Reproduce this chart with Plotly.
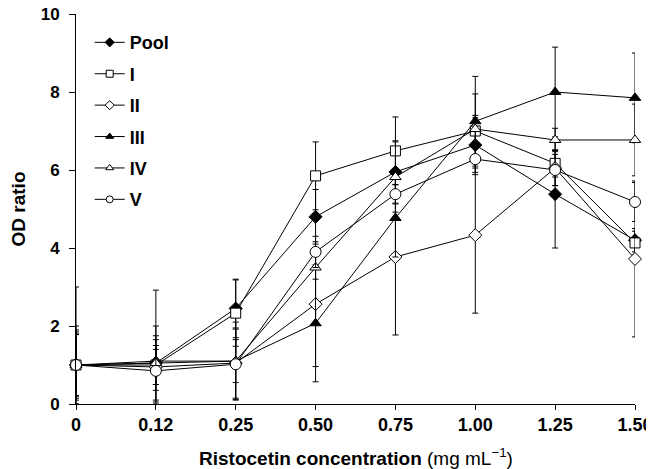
import plotly.graph_objects as go

categories = ["0", "0.12", "0.25", "0.50", "0.75", "1.00", "1.25", "1.50"]

pool = [1.0, 1.05, 2.45, 4.80, 5.95, 6.64, 5.38, 4.20]
pool_err = [0.80, 0.70, 0.75, 0.70, 0.80, 0.70, 1.38, 0.30]

s1 = [1.0, 1.00, 2.33, 5.85, 6.49, 7.00, 6.17, 4.13]
s1_err = [0.85, 0.50, 0.85, 0.87, 0.87, 0.95, 0.35, 0.30]

s2 = [1.0, 0.95, 1.05, 2.56, 3.77, 4.33, 6.05, 3.72]
s2_err = [0.78, 0.45, 0.90, 1.60, 2.00, 2.00, 0.45, 2.00]

s3 = [1.0, 1.10, 1.10, 2.07, 4.77, 7.25, 8.00, 7.85]
s3_err = [2.00, 1.82, 1.00, 1.50, 1.00, 1.15, 1.15, 1.15]

s4 = [1.0, 1.05, 1.10, 3.50, 5.82, 7.05, 6.77, 6.77]
s4_err = [0.90, 0.95, 0.55, 0.30, 0.90, 0.35, 0.30, 0.92]

s5 = [1.0, 0.85, 1.02, 3.90, 5.38, 6.28, 6.00, 5.18]
s5_err = [1.00, 0.80, 0.90, 0.40, 0.25, 0.40, 0.40, 0.50]

series = [
    ("Pool", pool, pool_err, "diamond", "black"),
    ("I", s1, s1_err, "square", "white"),
    ("II", s2, s2_err, "diamond", "white"),
    ("III", s3, s3_err, "triangle-up", "black"),
    ("IV", s4, s4_err, "triangle-up", "white"),
    ("V", s5, s5_err, "circle", "white"),
]

xpos = list(range(len(categories)))

fig = go.Figure()
for name, vals, errs, sym, fill in series:
    minus = [min(e, v) for e, v in zip(errs, vals)]
    fig.add_trace(go.Scatter(
        x=xpos, y=vals, name=name, mode="lines+markers",
        showlegend=False,
        line=dict(color="black", width=1),
        marker=dict(symbol=sym, size=10 if sym != "circle" else 11,
                    color=fill, line=dict(color="black", width=1)),
        error_y=dict(type="data", array=errs, arrayminus=minus, symmetric=False,
                     color="black", thickness=1, width=3),
        cliponaxis=False,
    ))

# legend entries with small markers
for name, vals, errs, sym, fill in series:
    fig.add_trace(go.Scatter(
        x=[None], y=[None], name=f"<b>{name}</b>", mode="lines+markers",
        legendgroup=name, showlegend=True,
        line=dict(color="black", width=1),
        marker=dict(symbol=sym, size=7, color=fill,
                    line=dict(color="black", width=1)),
    ))

font_fam = "Liberation Sans, Arial, sans-serif"
fig.update_layout(
    width=646, height=461,
    margin=dict(l=68, r=19, t=6, b=65, autoexpand=False),
    paper_bgcolor="white", plot_bgcolor="white",
    font=dict(family=font_fam, size=16, color="black"),
    showlegend=True,
    legend=dict(x=0.0245, y=0.974, xanchor="left", yanchor="top",
                bgcolor="rgba(0,0,0,0)", font=dict(size=18, family=font_fam),
                tracegroupgap=5, itemwidth=30),
    xaxis=dict(
        range=[0, 7], tickmode="array", tickvals=xpos,
        ticktext=[f"<b>{c}</b>" for c in categories],
        showline=True, linecolor="black", linewidth=1,
        ticks="outside", ticklen=5, tickcolor="black",
        showgrid=False, zeroline=False, automargin=False,
        tickfont=dict(size=18), ticklabelstandoff=-1,
        ticklabeloverflow="allow",
    ),
    yaxis=dict(
        range=[0, 10], tickmode="array", tickvals=[0, 2, 4, 6, 8, 10],
        ticktext=[f"<b>{t}</b>" for t in [0, 2, 4, 6, 8, 10]],
        showline=True, linecolor="black", linewidth=1,
        ticks="outside", ticklen=6, tickcolor="black",
        showgrid=False, zeroline=False, automargin=False,
        tickfont=dict(size=17), ticklabelstandoff=6,
        ticklabeloverflow="allow",
        title=dict(text="<b>OD ratio</b>", font=dict(size=19), standoff=18),
    ),
    annotations=[dict(
        text="<b>Ristocetin concentration</b> (mg mL<sup>\u22121</sup>)",
        xref="paper", yref="paper", x=0.5, y=-0.136,
        xanchor="center", yanchor="middle", showarrow=False,
        font=dict(size=19, family=font_fam, color="black"),
    )],
)

fig.write_html("out.html")
